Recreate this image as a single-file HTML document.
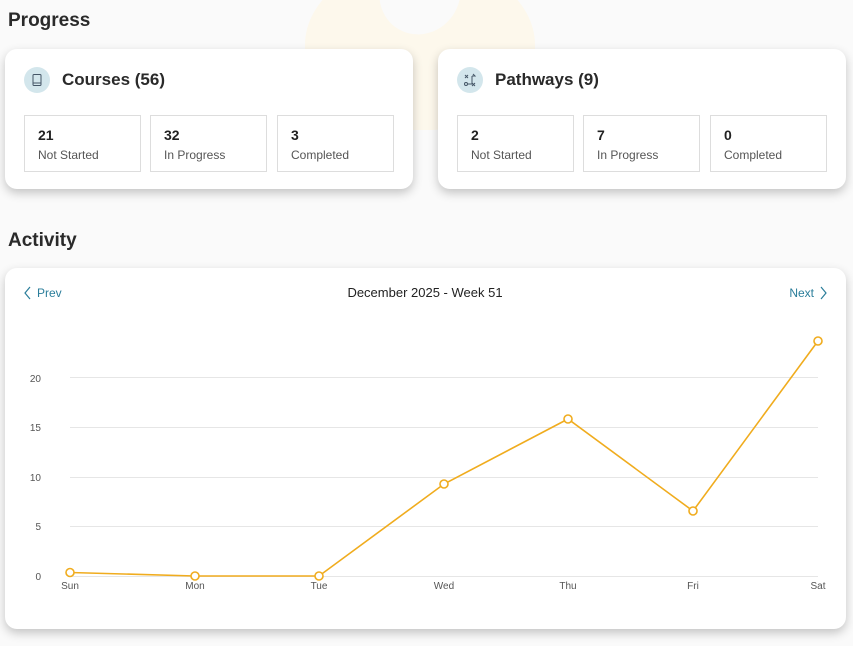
<!DOCTYPE html>
<html><head><meta charset="utf-8"><style>
body{margin:0;width:853px;height:646px;background:#fafafa;font-family:"Liberation Sans",sans-serif;position:relative;overflow:hidden;color:#222}
.h{position:absolute;left:8px;font-weight:bold;font-size:19px;color:#2a2a2a}
.card{position:absolute;background:#fff;border-radius:12px;box-shadow:0 4px 10px rgba(0,0,0,.22)}
.ic{position:absolute;left:19px;top:18px;width:26px;height:26px;border-radius:50%;background:#d3e6ec}
.ic svg{position:absolute;left:0;top:0}
.ct{position:absolute;left:57px;top:21px;font-weight:bold;font-size:17px;color:#2a2a2a}
.box{position:absolute;top:66px;width:117px;height:57px;border:1px solid #ddd;box-sizing:border-box}
.box b{position:absolute;left:13px;top:11px;font-size:14px}
.box span{position:absolute;left:13px;top:32px;font-size:12px;color:#555}
</style></head><body>
<div style="position:absolute;left:305px;top:-40px;width:230px;height:170px;border-radius:50% 50% 45% 45%;background:#fdf8ec"></div>
<div style="position:absolute;left:380px;top:-50px;width:80px;height:85px;border-radius:50%;background:#fafafa;transform:rotate(30deg)"></div>
<div class="h" style="top:10px">Progress</div>
<div class="card" style="left:5px;top:49px;width:408px;height:140px">
<div class="ic"><svg width="26" height="26"><rect x="9" y="7.5" width="8" height="11" rx="1" fill="none" stroke="#456" stroke-width="1"/><line x1="9" x2="17" y1="16" y2="16" stroke="#456"/></svg></div><div class="ct">Courses (56)</div>
<div class="box" style="left:19px"><b>21</b><span>Not Started</span></div>
<div class="box" style="left:145px"><b>32</b><span>In Progress</span></div>
<div class="box" style="left:272px"><b>3</b><span>Completed</span></div>
</div>
<div class="card" style="left:438px;top:49px;width:408px;height:140px">
<div class="ic"><svg width="26" height="26" stroke="#456" fill="none" stroke-width="1"><path d="M8 8l3 3M11 8l-3 3M15 9h3l-2-2M15 9v8h-4"/><circle cx="9" cy="17" r="1.5"/><path d="M15 16l3 3M18 16l-3 3"/></svg></div><div class="ct">Pathways (9)</div>
<div class="box" style="left:19px"><b>2</b><span>Not Started</span></div>
<div class="box" style="left:145px"><b>7</b><span>In Progress</span></div>
<div class="box" style="left:272px"><b>0</b><span>Completed</span></div>
</div>
<div class="h" style="top:230px">Activity</div>
<div class="card" style="left:5px;top:268px;width:841px;height:361px"></div>
<svg style="position:absolute;left:0;top:0" width="853" height="646" font-family="Liberation Sans,sans-serif">
<path d="M30 287 L25 293 L30 299" fill="none" stroke="#2a7d9a" stroke-width="1.2"/>
<text x="37" y="297" font-size="12" fill="#2a7d9a">Prev</text>
<text x="425" y="297" font-size="13" fill="#222" text-anchor="middle">December 2025 - Week 51</text>
<text x="814" y="297" font-size="12" fill="#2a7d9a" text-anchor="end">Next</text>
<path d="M821 287 L826 293 L821 299" fill="none" stroke="#2a7d9a" stroke-width="1.2"/>
<g stroke="#e6e6e6" stroke-width="1">
<line x1="70" x2="818" y1="377.5" y2="377.5"/><line x1="70" x2="818" y1="427.5" y2="427.5"/>
<line x1="70" x2="818" y1="477.5" y2="477.5"/><line x1="70" x2="818" y1="526.5" y2="526.5"/>
<line x1="70" x2="818" y1="576.5" y2="576.5"/></g>
<g font-size="10" fill="#555" text-anchor="end">
<text x="41" y="382">20</text><text x="41" y="431">15</text><text x="41" y="481">10</text><text x="41" y="530">5</text><text x="41" y="580">0</text></g>
<g font-size="10" fill="#555" text-anchor="middle">
<text x="70" y="589">Sun</text><text x="195" y="589">Mon</text><text x="319" y="589">Tue</text><text x="444" y="589">Wed</text><text x="568" y="589">Thu</text><text x="693" y="589">Fri</text><text x="818" y="589">Sat</text></g>
<polyline points="70,572.5 195,576 319,576 444,484 568,419 693,511 818,341" fill="none" stroke="#f0ac1e" stroke-width="1.6"/>
<g fill="#fff" stroke="#f0ac1e" stroke-width="1.6">
<circle cx="70" cy="572.5" r="4"/><circle cx="195" cy="576" r="4"/><circle cx="319" cy="576" r="4"/><circle cx="444" cy="484" r="4"/><circle cx="568" cy="419" r="4"/><circle cx="693" cy="511" r="4"/><circle cx="818" cy="341" r="4"/></g>
</svg>
</body></html>
